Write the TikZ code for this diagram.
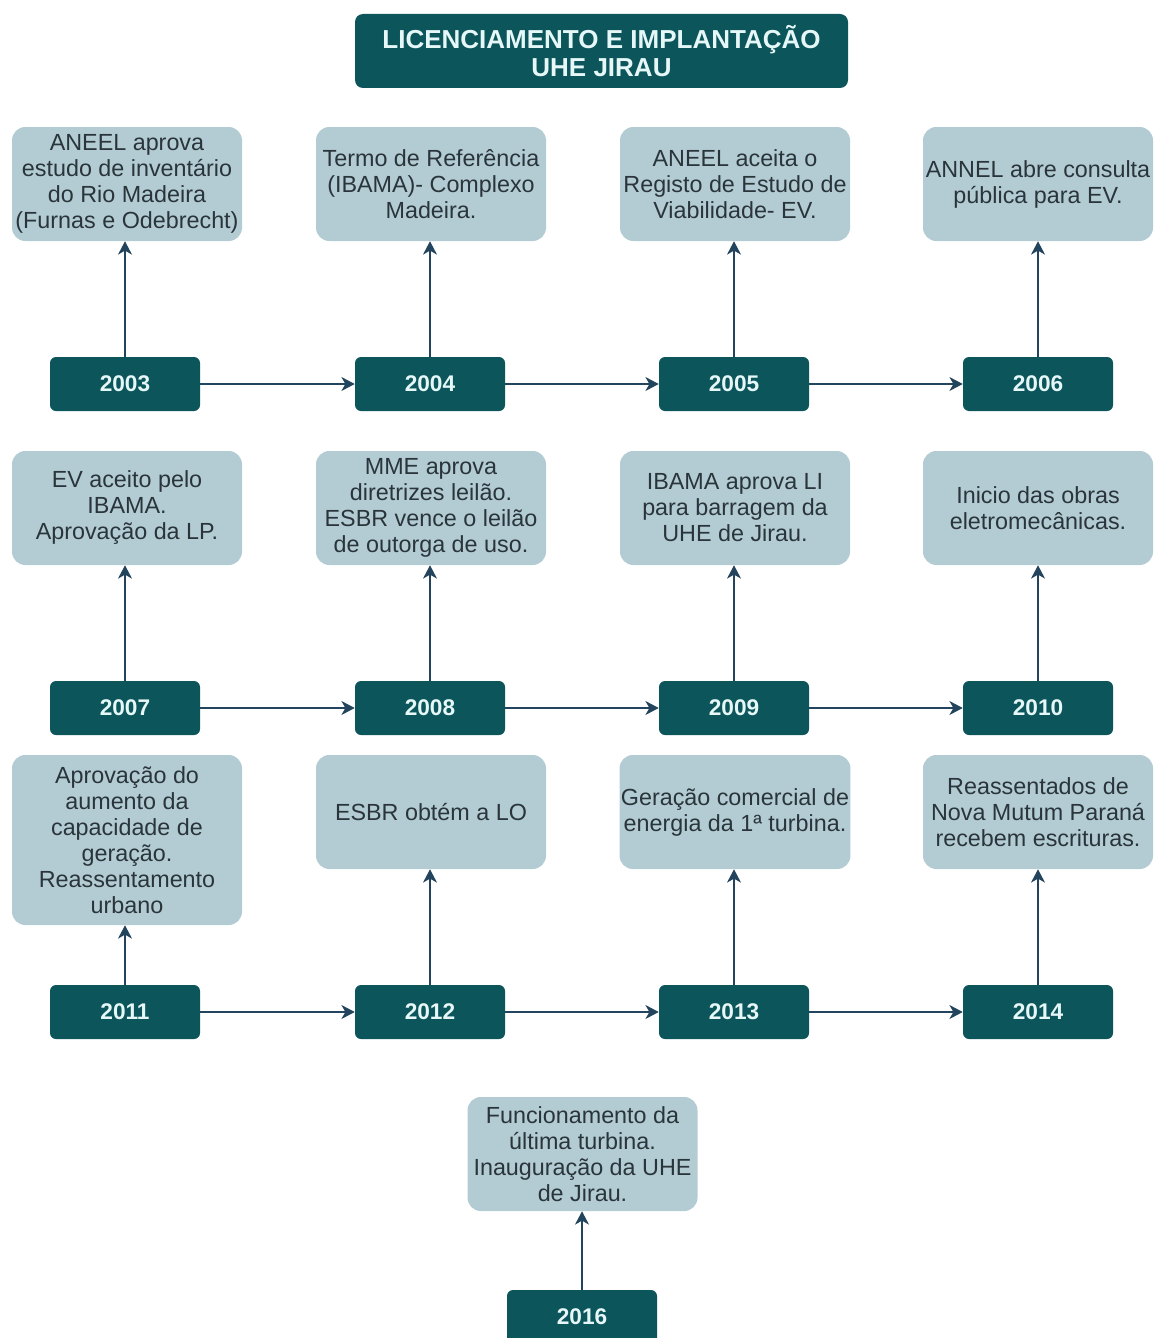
\documentclass[tikz,border=0pt]{standalone}
\usepackage{fontspec}
\setmainfont{Liberation Sans}
\usetikzlibrary{arrows.meta}
\definecolor{darkteal}{HTML}{0B555B}
\definecolor{lightteal}{HTML}{B3CCD3}
\definecolor{linecol}{HTML}{23445D}
\definecolor{yeartext}{HTML}{E6F7F7}
\definecolor{notetext}{HTML}{2A353B}

\tikzset{
  titlebox/.style={fill=darkteal, rounded corners=6pt, minimum width=369.75pt,
    minimum height=55.5pt, align=center, text=yeartext,
    font=\fontsize{19.5}{20.5}\selectfont\bfseries},
  yearbox/.style={fill=darkteal, rounded corners=4.5pt, minimum width=112.5pt,
    minimum height=40.5pt, text=yeartext, font=\fontsize{17}{20}\selectfont\bfseries},
  notebox/.style={fill=lightteal, rounded corners=10pt, minimum width=172.5pt,
    minimum height=85.5pt, inner xsep=1pt, align=center, text=notetext,
    font=\fontsize{17.5}{19.5}\selectfont},
  link/.style={draw=linecol, line width=1.2pt, -{Stealth[length=10pt,width=10.5pt,inset=3pt]}}
}

\begin{document}
\begin{tikzpicture}[x=0.75pt, y=-0.75pt]
  \useasboundingbox (0,0) rectangle (1153,1338);

  \node[titlebox] (title) at (601.5,51) {LICENCIAMENTO E IMPLANTAÇÃO\\UHE JIRAU};

  % years
  \foreach \yr/\x/\y in {2003/125/384, 2004/430/384, 2005/734/384, 2006/1038/384,
                         2007/125/708, 2008/430/708, 2009/734/708, 2010/1038/708,
                         2011/125/1012, 2012/430/1012, 2013/734/1012, 2014/1038/1012,
                         2016/582/1317}
    \node[yearbox] (y\yr) at (\x,\y) {\yr};

  % notes
  \node[notebox] (n2003) at (127,184) {ANEEL aprova\\estudo de inventário\\do Rio Madeira\\(Furnas e Odebrecht)};
  \node[notebox] (n2004) at (431,184) {Termo de Referência\\(IBAMA)- Complexo\\Madeira.};
  \node[notebox] (n2005) at (735,184) {ANEEL aceita o\\Registo de Estudo de\\Viabilidade- EV.};
  \node[notebox] (n2006) at (1038,184) {ANNEL abre consulta\\pública para EV.};

  \node[notebox] (n2007) at (127,508) {EV aceito pelo\\IBAMA.\\Aprovação da LP.};
  \node[notebox] (n2008) at (431,508) {MME aprova\\diretrizes leilão.\\ESBR vence o leilão\\de outorga de uso.};
  \node[notebox] (n2009) at (735,508) {IBAMA aprova LI\\para barragem da\\UHE de Jirau.};
  \node[notebox] (n2010) at (1038,508) {Inicio das obras\\eletromecânicas.};

  \node[notebox, minimum height=127.5pt] (n2011) at (127,840) {Aprovação do\\aumento da\\capacidade de\\geração.\\Reassentamento\\urbano};
  \node[notebox] (n2012) at (431,812) {ESBR obtém a LO};
  \node[notebox] (n2013) at (735,812) {Geração comercial de\\energia da 1ª turbina.};
  \node[notebox] (n2014) at (1038,812) {Reassentados de\\Nova Mutum Paraná\\recebem escrituras.};

  \node[notebox] (n2016) at (582.5,1154) {Funcionamento da\\última turbina.\\Inauguração da UHE\\de Jirau.};

  % year to note
  \foreach \yr in {2003,2004,2005,2006,2007,2008,2009,2010,2011,2012,2013,2014,2016}
    \draw[link] (y\yr.north) -- (y\yr.north |- n\yr.south);

  % year to next year
  \foreach \a/\b in {2003/2004, 2004/2005, 2005/2006, 2007/2008, 2008/2009, 2009/2010,
                     2011/2012, 2012/2013, 2013/2014}
    \draw[link] (y\a) -- (y\b);
\end{tikzpicture}
\end{document}
